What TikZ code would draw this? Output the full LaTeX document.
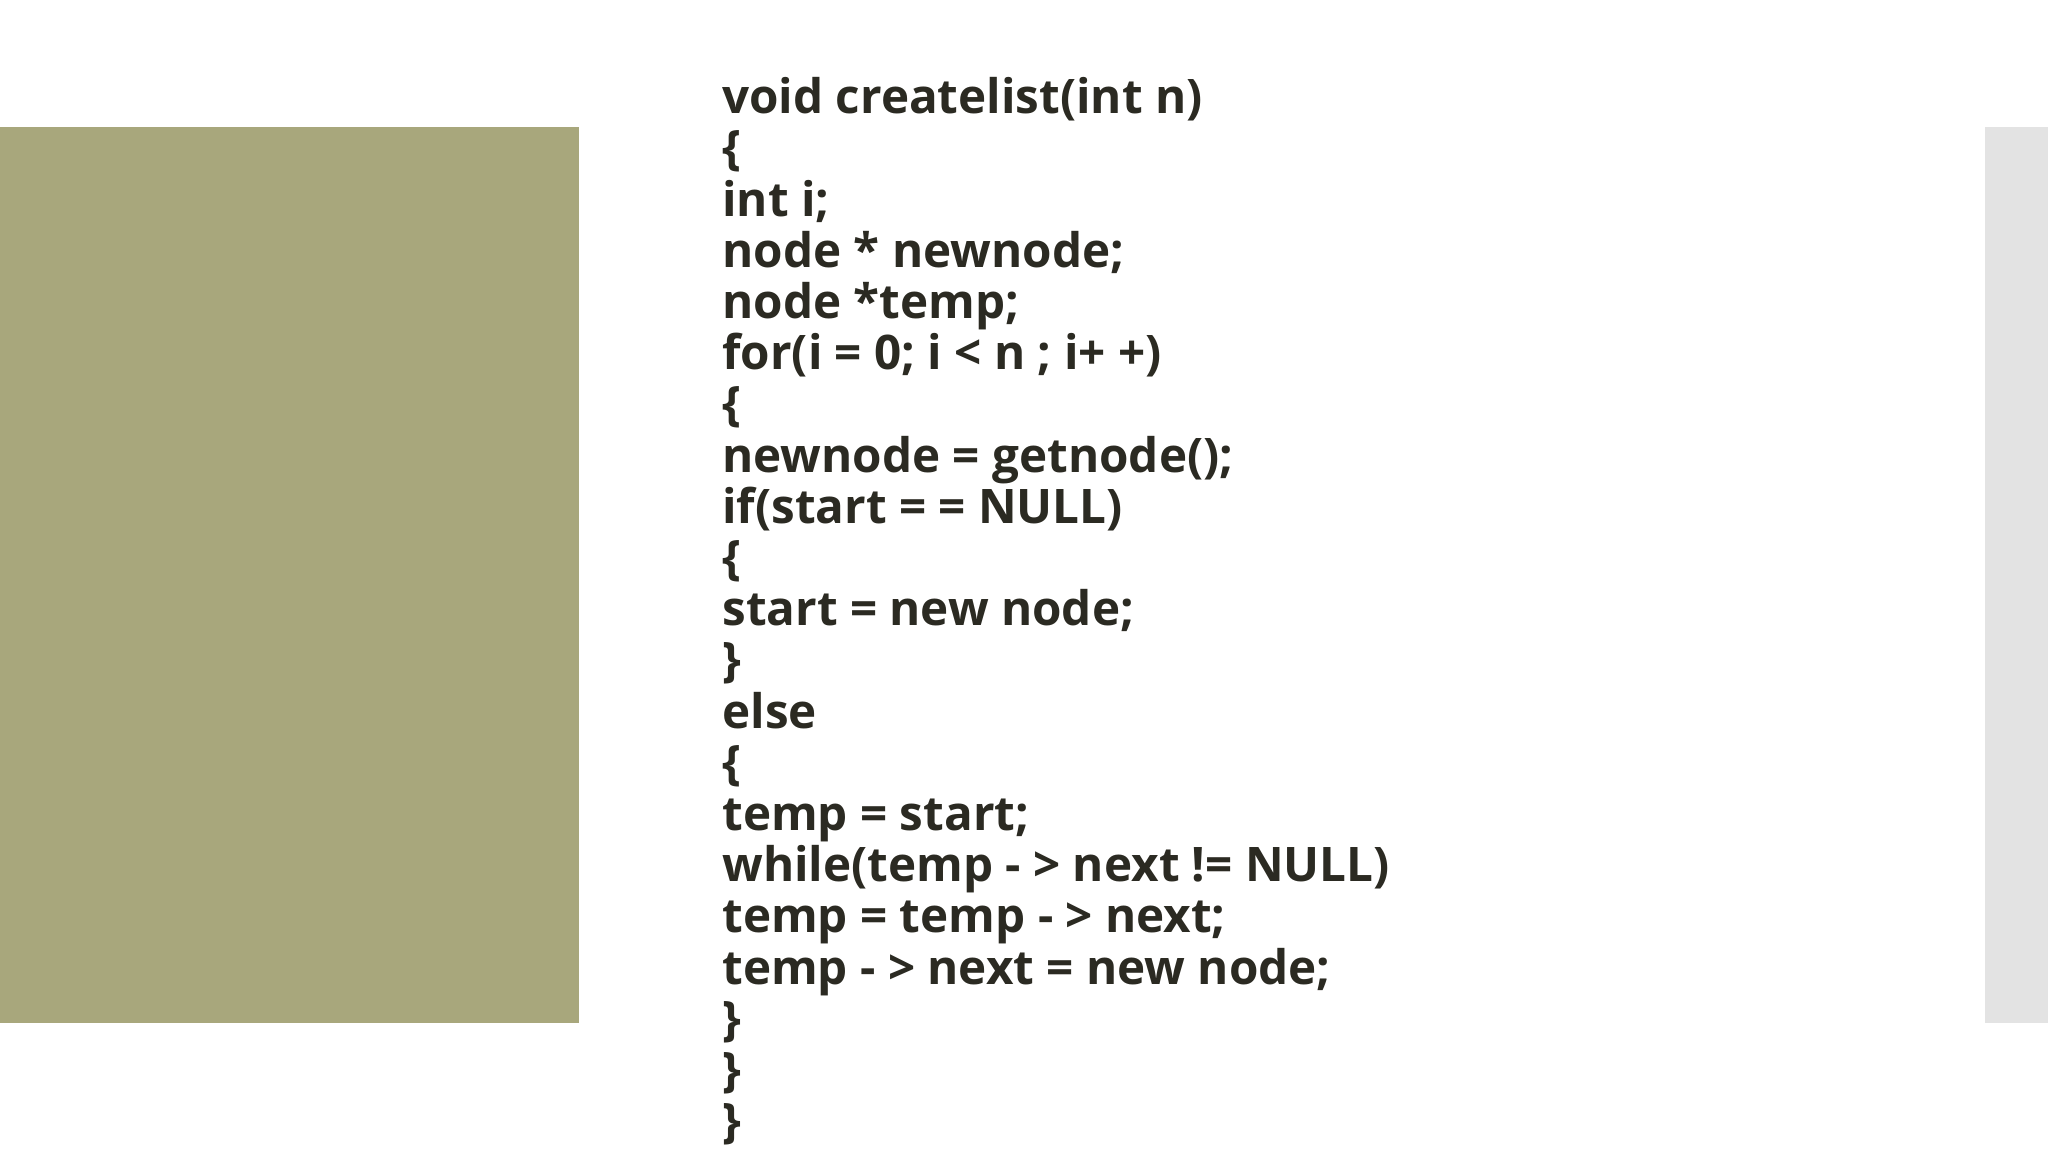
\documentclass[tikz,border=0pt]{standalone}
\usepackage{fontspec}
\setmainfont{Open Sans}
\definecolor{olive}{HTML}{A8A77C}
\definecolor{lgray}{HTML}{E3E3E3}
\definecolor{codecol}{HTML}{2B2A22}
\begin{document}
\begin{tikzpicture}[x=1pt,y=1pt,
  code/.style={anchor=base west,inner sep=0pt,text=codecol,font=\fontsize{23.8}{25.6}\selectfont\bfseries}]
\useasboundingbox (0,0) rectangle (1024,-576);
\fill[white] (0,0) rectangle (1024,-576);
\fill[olive] (0,-63.5) rectangle (289.5,-511.5);
\fill[lgray] (992.5,-63.5) rectangle (1024,-511.5);
\foreach \t [count=\i from 0] in {
 {void createlist(int n)},
 {\{},
 {int i;},
 {node * newnode;},
 {node *temp;},
 {for(i = 0; i < n ; i+ +)},
 {\{},
 {newnode = getnode();},
 {if(start = = NULL)},
 {\{},
 {start = new node;},
 {\}},
 {else},
 {\{},
 {temp = start;},
 {while(temp - > next != NULL)},
 {temp = temp - > next;},
 {temp - > next = new node;},
 {\}},
 {\}},
 {\}}}
 \node[code] (l\i) at (361,{-56.8-25.6*\i}) {\t};
\end{tikzpicture}
\end{document}
